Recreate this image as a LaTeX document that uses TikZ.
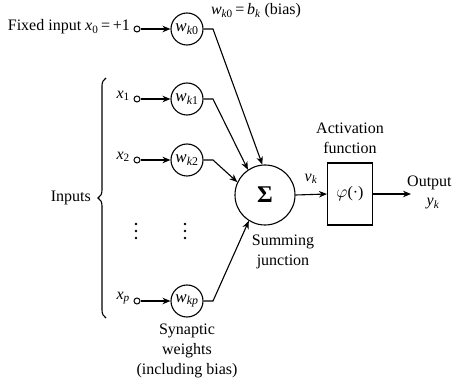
\documentclass[tikz,border=0pt]{standalone}
\usepackage{fontspec}
\setmainfont{Liberation Serif}
\usetikzlibrary{arrows.meta,decorations.pathreplacing}
\newcommand{\vv}[2]{\ensuremath{\mathit{#1}_{#2}}}
\newcommand{\kk}[1]{\mathit{k}\mathrm{#1}}
\begin{document}
\begin{tikzpicture}[x=1pt,y=-1pt,
  font=\fontsize{16}{20}\selectfont,
  wt/.style={draw,circle,minimum size=32pt,inner sep=0pt,line width=1.1pt,font=\fontsize{17}{20}\selectfont},
  term/.style={draw,circle,minimum size=6pt,inner sep=0pt,line width=1pt},
  ln/.style={line width=1.1pt},
  arr/.style={ln,-{Stealth[length=8pt,width=6.5pt]}},
  lbl/.style={inner sep=1pt,align=center},
  dot/.style={fill,circle,inner sep=0pt,minimum size=2.8pt}]
\useasboundingbox (0,0) rectangle (459,385);
% terminals and weights
\node[term] (t0) at (137,29) {};
\node[wt] (w0) at (187,29) {\vv{w}{\kk{0}}};
\node[term] (t1) at (137,99) {};
\node[wt] (w1) at (187,99) {\vv{w}{\kk{1}}};
\node[term] (t2) at (137,160) {};
\node[wt] (w2) at (187,160) {\vv{w}{\kk{2}}};
\node[term] (tp) at (137,301) {};
\node[wt] (wp) at (187,301) {\vv{w}{\mathit{kp}}};
% labels
\node[lbl,anchor=east] (lx0) at (131,27) {Fixed input \vv{x}{\mathrm{0}}\,=\,+1};
\node[lbl,anchor=east] (lx1) at (131,96) {\vv{x}{\mathrm{1}}};
\node[lbl,anchor=east] (lx2) at (131,157) {\vv{x}{\mathrm{2}}};
\node[lbl,anchor=east] (lxp) at (131,298) {\vv{x}{\mathit{p}}};
\node[lbl] (bias) at (256,11) {\vv{w}{\kk{0}}\,=\,\vv{b}{\mathit{k}} (bias)};
\node[lbl,anchor=east] (inp) at (92,198) {Inputs};
\foreach \yy [count=\i] in {224,231,238}{
  \node[dot] (da\i) at (136,\yy) {};
  \node[dot] (db\i) at (185,\yy) {};
}
\node[lbl] (syn) at (187,351) {Synaptic\\weights\\(including bias)};
% brace
\draw[ln,decorate,decoration={brace,amplitude=8pt}] (106,318) -- (106,78);
% summing junction
\node[draw,circle,minimum size=60pt,inner sep=0pt,line width=1.1pt,font=\fontsize{24}{24}\selectfont\bfseries] (sum) at (265,195) {Σ};
\node[lbl] (sj) at (283,252) {Summing\\junction};
% activation
\node[draw,minimum width=45pt,minimum height=62pt,inner sep=0pt,line width=1.1pt] (act) at (350,194) {$\varphi$(·)};
\node[lbl] (actl) at (350,138) {Activation\\function};
\node[lbl] (vk) at (311,179) {\vv{v}{\mathit{k}}};
\coordinate (outc) at (411,194);
\node[lbl,anchor=west] (outl) at (406,183) {Output};
\node[lbl] (yk) at (433,204) {\vv{y}{\mathit{k}}};
% connectors
\coordinate (c0) at (213,29);
\coordinate (c1) at (213,99);
\coordinate (c2) at (213,160);
\coordinate (cp) at (213,301);
\draw[arr] (t0) -- (w0);
\draw[arr] (t1) -- (w1);
\draw[arr] (t2) -- (w2);
\draw[arr] (tp) -- (wp);
\draw[arr] (w0.east) -- (c0) -- (sum.95);
\draw[arr] (w1.east) -- (c1) -- (sum.124);
\draw[arr] (w2.east) -- (c2) -- (sum.155);
\draw[arr] (wp.east) -- (cp) -- (sum.238);
\draw[arr] (sum.east) -- (act.west);
\draw[arr] (act.east) -- (outc);
\end{tikzpicture}
\end{document}
